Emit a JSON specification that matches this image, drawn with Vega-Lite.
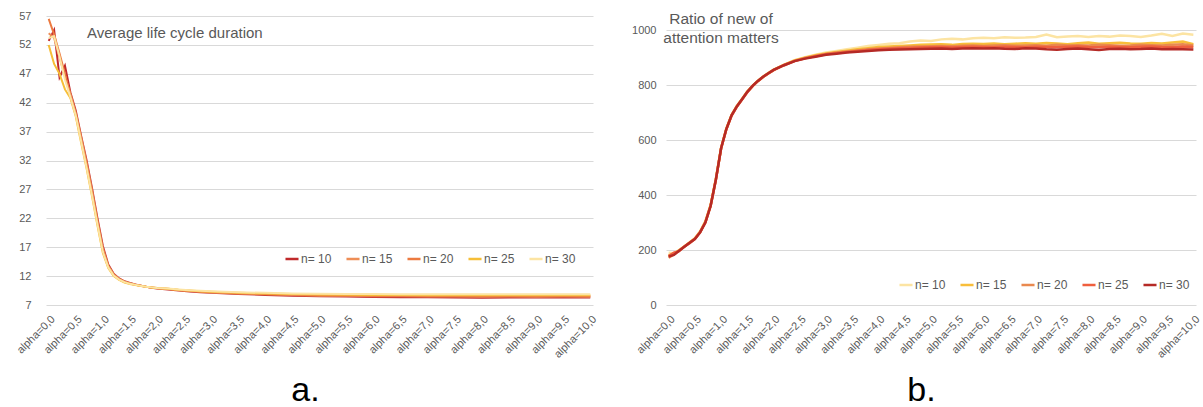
{
  "$schema": "https://vega.github.io/schema/vega-lite/v6.json",
  "background": "white",
  "padding": {"left": 14, "top": 10, "right": 0, "bottom": 0},
  "bounds": "flush",
  "spacing": 73,
  "datasets": {
    "life": [
      {"n":"n= 10","a":0,"v":52.7},{"n":"n= 10","a":0.1,"v":54.6},{"n":"n= 10","a":0.2,"v":46.4},{"n":"n= 10","a":0.3,"v":48.4},{"n":"n= 10","a":0.4,"v":43.8},{"n":"n= 10","a":0.5,"v":40.6},{"n":"n= 10","a":0.6,"v":36.2},{"n":"n= 10","a":0.7,"v":32.0},{"n":"n= 10","a":0.8,"v":27.2},{"n":"n= 10","a":0.9,"v":22.0},{"n":"n= 10","a":1.0,"v":17.2},{"n":"n= 10","a":1.1,"v":14.0},{"n":"n= 10","a":1.2,"v":12.4},{"n":"n= 10","a":1.3,"v":11.6},{"n":"n= 10","a":1.4,"v":11.1},{"n":"n= 10","a":1.5,"v":10.8},{"n":"n= 10","a":1.6,"v":10.55},{"n":"n= 10","a":1.7,"v":10.35},{"n":"n= 10","a":1.8,"v":10.15},{"n":"n= 10","a":1.9,"v":10.0},{"n":"n= 10","a":2.0,"v":9.85},{"n":"n= 10","a":2.2,"v":9.7},{"n":"n= 10","a":2.4,"v":9.5},{"n":"n= 10","a":2.6,"v":9.35},{"n":"n= 10","a":2.8,"v":9.2},{"n":"n= 10","a":3.0,"v":9.1},{"n":"n= 10","a":3.5,"v":8.9},{"n":"n= 10","a":4.0,"v":8.75},{"n":"n= 10","a":4.5,"v":8.6},{"n":"n= 10","a":5.0,"v":8.5},{"n":"n= 10","a":5.5,"v":8.45},{"n":"n= 10","a":6.0,"v":8.4},{"n":"n= 10","a":6.5,"v":8.35},{"n":"n= 10","a":7.0,"v":8.35},{"n":"n= 10","a":7.5,"v":8.3},{"n":"n= 10","a":8.0,"v":8.25},{"n":"n= 10","a":8.5,"v":8.3},{"n":"n= 10","a":9.0,"v":8.3},{"n":"n= 10","a":9.5,"v":8.3},{"n":"n= 10","a":10.0,"v":8.3},
      {"n":"n= 15","a":0,"v":54.0},{"n":"n= 15","a":0.1,"v":53.2},{"n":"n= 15","a":0.2,"v":49.8},{"n":"n= 15","a":0.3,"v":46.6},{"n":"n= 15","a":0.4,"v":43.6},{"n":"n= 15","a":0.5,"v":40.2},{"n":"n= 15","a":0.6,"v":36.0},{"n":"n= 15","a":0.7,"v":31.6},{"n":"n= 15","a":0.8,"v":26.8},{"n":"n= 15","a":0.9,"v":21.6},{"n":"n= 15","a":1.0,"v":16.8},{"n":"n= 15","a":1.1,"v":13.8},{"n":"n= 15","a":1.2,"v":12.3},{"n":"n= 15","a":1.3,"v":11.5},{"n":"n= 15","a":1.4,"v":11.05},{"n":"n= 15","a":1.5,"v":10.75},{"n":"n= 15","a":1.6,"v":10.52},{"n":"n= 15","a":1.7,"v":10.33},{"n":"n= 15","a":1.8,"v":10.15},{"n":"n= 15","a":1.9,"v":10.02},{"n":"n= 15","a":2.0,"v":9.9},{"n":"n= 15","a":2.2,"v":9.75},{"n":"n= 15","a":2.4,"v":9.55},{"n":"n= 15","a":2.6,"v":9.4},{"n":"n= 15","a":2.8,"v":9.28},{"n":"n= 15","a":3.0,"v":9.18},{"n":"n= 15","a":3.5,"v":8.98},{"n":"n= 15","a":4.0,"v":8.85},{"n":"n= 15","a":4.5,"v":8.72},{"n":"n= 15","a":5.0,"v":8.62},{"n":"n= 15","a":5.5,"v":8.58},{"n":"n= 15","a":6.0,"v":8.53},{"n":"n= 15","a":6.5,"v":8.5},{"n":"n= 15","a":7.0,"v":8.48},{"n":"n= 15","a":7.5,"v":8.45},{"n":"n= 15","a":8.0,"v":8.42},{"n":"n= 15","a":8.5,"v":8.45},{"n":"n= 15","a":9.0,"v":8.44},{"n":"n= 15","a":9.5,"v":8.45},{"n":"n= 15","a":10.0,"v":8.44},
      {"n":"n= 20","a":0,"v":56.5},{"n":"n= 20","a":0.1,"v":53.8},{"n":"n= 20","a":0.2,"v":50.5},{"n":"n= 20","a":0.3,"v":47.0},{"n":"n= 20","a":0.4,"v":43.0},{"n":"n= 20","a":0.5,"v":40.0},{"n":"n= 20","a":0.6,"v":35.6},{"n":"n= 20","a":0.7,"v":31.2},{"n":"n= 20","a":0.8,"v":26.5},{"n":"n= 20","a":0.9,"v":21.3},{"n":"n= 20","a":1.0,"v":16.5},{"n":"n= 20","a":1.1,"v":13.6},{"n":"n= 20","a":1.2,"v":12.2},{"n":"n= 20","a":1.3,"v":11.45},{"n":"n= 20","a":1.4,"v":11.0},{"n":"n= 20","a":1.5,"v":10.7},{"n":"n= 20","a":1.6,"v":10.5},{"n":"n= 20","a":1.7,"v":10.32},{"n":"n= 20","a":1.8,"v":10.16},{"n":"n= 20","a":1.9,"v":10.04},{"n":"n= 20","a":2.0,"v":9.93},{"n":"n= 20","a":2.2,"v":9.8},{"n":"n= 20","a":2.4,"v":9.6},{"n":"n= 20","a":2.6,"v":9.45},{"n":"n= 20","a":2.8,"v":9.33},{"n":"n= 20","a":3.0,"v":9.23},{"n":"n= 20","a":3.5,"v":9.05},{"n":"n= 20","a":4.0,"v":8.92},{"n":"n= 20","a":4.5,"v":8.8},{"n":"n= 20","a":5.0,"v":8.72},{"n":"n= 20","a":5.5,"v":8.66},{"n":"n= 20","a":6.0,"v":8.62},{"n":"n= 20","a":6.5,"v":8.6},{"n":"n= 20","a":7.0,"v":8.58},{"n":"n= 20","a":7.5,"v":8.56},{"n":"n= 20","a":8.0,"v":8.55},{"n":"n= 20","a":8.5,"v":8.55},{"n":"n= 20","a":9.0,"v":8.56},{"n":"n= 20","a":9.5,"v":8.55},{"n":"n= 20","a":10.0,"v":8.56},
      {"n":"n= 25","a":0,"v":52.0},{"n":"n= 25","a":0.1,"v":48.7},{"n":"n= 25","a":0.2,"v":47.0},{"n":"n= 25","a":0.3,"v":44.3},{"n":"n= 25","a":0.4,"v":42.8},{"n":"n= 25","a":0.5,"v":39.6},{"n":"n= 25","a":0.6,"v":35.0},{"n":"n= 25","a":0.7,"v":30.6},{"n":"n= 25","a":0.8,"v":25.8},{"n":"n= 25","a":0.9,"v":20.8},{"n":"n= 25","a":1.0,"v":16.0},{"n":"n= 25","a":1.1,"v":13.4},{"n":"n= 25","a":1.2,"v":12.0},{"n":"n= 25","a":1.3,"v":11.35},{"n":"n= 25","a":1.4,"v":10.9},{"n":"n= 25","a":1.5,"v":10.62},{"n":"n= 25","a":1.6,"v":10.45},{"n":"n= 25","a":1.7,"v":10.28},{"n":"n= 25","a":1.8,"v":10.14},{"n":"n= 25","a":1.9,"v":10.03},{"n":"n= 25","a":2.0,"v":9.94},{"n":"n= 25","a":2.2,"v":9.82},{"n":"n= 25","a":2.4,"v":9.63},{"n":"n= 25","a":2.6,"v":9.5},{"n":"n= 25","a":2.8,"v":9.38},{"n":"n= 25","a":3.0,"v":9.3},{"n":"n= 25","a":3.5,"v":9.12},{"n":"n= 25","a":4.0,"v":9.0},{"n":"n= 25","a":4.5,"v":8.9},{"n":"n= 25","a":5.0,"v":8.82},{"n":"n= 25","a":5.5,"v":8.77},{"n":"n= 25","a":6.0,"v":8.74},{"n":"n= 25","a":6.5,"v":8.72},{"n":"n= 25","a":7.0,"v":8.7},{"n":"n= 25","a":7.5,"v":8.7},{"n":"n= 25","a":8.0,"v":8.68},{"n":"n= 25","a":8.5,"v":8.7},{"n":"n= 25","a":9.0,"v":8.69},{"n":"n= 25","a":9.5,"v":8.7},{"n":"n= 25","a":10.0,"v":8.7},
      {"n":"n= 30","a":0,"v":53.2},{"n":"n= 30","a":0.1,"v":53.5},{"n":"n= 30","a":0.2,"v":50.0},{"n":"n= 30","a":0.3,"v":46.0},{"n":"n= 30","a":0.4,"v":43.0},{"n":"n= 30","a":0.5,"v":39.8},{"n":"n= 30","a":0.6,"v":35.3},{"n":"n= 30","a":0.7,"v":30.8},{"n":"n= 30","a":0.8,"v":26.0},{"n":"n= 30","a":0.9,"v":21.0},{"n":"n= 30","a":1.0,"v":16.2},{"n":"n= 30","a":1.1,"v":13.5},{"n":"n= 30","a":1.2,"v":12.1},{"n":"n= 30","a":1.3,"v":11.4},{"n":"n= 30","a":1.4,"v":10.95},{"n":"n= 30","a":1.5,"v":10.66},{"n":"n= 30","a":1.6,"v":10.48},{"n":"n= 30","a":1.7,"v":10.31},{"n":"n= 30","a":1.8,"v":10.16},{"n":"n= 30","a":1.9,"v":10.05},{"n":"n= 30","a":2.0,"v":9.96},{"n":"n= 30","a":2.2,"v":9.85},{"n":"n= 30","a":2.4,"v":9.68},{"n":"n= 30","a":2.6,"v":9.55},{"n":"n= 30","a":2.8,"v":9.45},{"n":"n= 30","a":3.0,"v":9.37},{"n":"n= 30","a":3.5,"v":9.2},{"n":"n= 30","a":4.0,"v":9.1},{"n":"n= 30","a":4.5,"v":9.0},{"n":"n= 30","a":5.0,"v":8.95},{"n":"n= 30","a":5.5,"v":8.92},{"n":"n= 30","a":6.0,"v":8.9},{"n":"n= 30","a":6.5,"v":8.88},{"n":"n= 30","a":7.0,"v":8.87},{"n":"n= 30","a":7.5,"v":8.87},{"n":"n= 30","a":8.0,"v":8.86},{"n":"n= 30","a":8.5,"v":8.87},{"n":"n= 30","a":9.0,"v":8.86},{"n":"n= 30","a":9.5,"v":8.87},{"n":"n= 30","a":10.0,"v":8.88}
    ],
    "ratio": [
      {"n":"n= 10","a":0,"v":190},{"n":"n= 10","a":0.1,"v":188},{"n":"n= 10","a":0.2,"v":200},{"n":"n= 10","a":0.3,"v":214},{"n":"n= 10","a":0.4,"v":228},{"n":"n= 10","a":0.5,"v":243},{"n":"n= 10","a":0.6,"v":268},{"n":"n= 10","a":0.7,"v":305},{"n":"n= 10","a":0.8,"v":365},{"n":"n= 10","a":0.9,"v":460},{"n":"n= 10","a":1.0,"v":572},{"n":"n= 10","a":1.1,"v":642},{"n":"n= 10","a":1.2,"v":692},{"n":"n= 10","a":1.3,"v":725},{"n":"n= 10","a":1.4,"v":750},{"n":"n= 10","a":1.5,"v":777},{"n":"n= 10","a":1.6,"v":798},{"n":"n= 10","a":1.7,"v":816},{"n":"n= 10","a":1.8,"v":831},{"n":"n= 10","a":1.9,"v":844},{"n":"n= 10","a":2.0,"v":856},
      {"n":"n= 10","a":2.2,"v":874},{"n":"n= 10","a":2.4,"v":890},{"n":"n= 10","a":2.6,"v":901},{"n":"n= 10","a":2.8,"v":910},{"n":"n= 10","a":3.0,"v":918},{"n":"n= 10","a":3.2,"v":924},{"n":"n= 10","a":3.4,"v":930},{"n":"n= 10","a":3.6,"v":936},{"n":"n= 10","a":3.8,"v":942},{"n":"n= 10","a":4.0,"v":946},{"n":"n= 10","a":4.2,"v":950},{"n":"n= 10","a":4.4,"v":952},{"n":"n= 10","a":4.6,"v":958},{"n":"n= 10","a":4.8,"v":962},{"n":"n= 10","a":5.0,"v":960},{"n":"n= 10","a":5.2,"v":966},{"n":"n= 10","a":5.4,"v":968},{"n":"n= 10","a":5.6,"v":966},{"n":"n= 10","a":5.8,"v":970},{"n":"n= 10","a":6.0,"v":972},{"n":"n= 10","a":6.2,"v":970},{"n":"n= 10","a":6.4,"v":974},{"n":"n= 10","a":6.6,"v":972},{"n":"n= 10","a":6.8,"v":973},{"n":"n= 10","a":7.0,"v":975},{"n":"n= 10","a":7.2,"v":984},{"n":"n= 10","a":7.4,"v":974},{"n":"n= 10","a":7.6,"v":976},{"n":"n= 10","a":7.8,"v":978},{"n":"n= 10","a":8.0,"v":975},{"n":"n= 10","a":8.2,"v":978},{"n":"n= 10","a":8.4,"v":976},{"n":"n= 10","a":8.6,"v":980},{"n":"n= 10","a":8.8,"v":978},{"n":"n= 10","a":9.0,"v":975},{"n":"n= 10","a":9.2,"v":980},{"n":"n= 10","a":9.4,"v":986},{"n":"n= 10","a":9.6,"v":978},{"n":"n= 10","a":9.8,"v":987},{"n":"n= 10","a":10.0,"v":983},
      {"n":"n= 15","a":0,"v":180},{"n":"n= 15","a":0.1,"v":186},{"n":"n= 15","a":0.2,"v":199},{"n":"n= 15","a":0.3,"v":213},{"n":"n= 15","a":0.4,"v":227},{"n":"n= 15","a":0.5,"v":242},{"n":"n= 15","a":0.6,"v":266},{"n":"n= 15","a":0.7,"v":302},{"n":"n= 15","a":0.8,"v":362},{"n":"n= 15","a":0.9,"v":457},{"n":"n= 15","a":1.0,"v":571},{"n":"n= 15","a":1.1,"v":641},{"n":"n= 15","a":1.2,"v":691},{"n":"n= 15","a":1.3,"v":723},{"n":"n= 15","a":1.4,"v":749},{"n":"n= 15","a":1.5,"v":776},{"n":"n= 15","a":1.6,"v":797},{"n":"n= 15","a":1.7,"v":815},{"n":"n= 15","a":1.8,"v":830},{"n":"n= 15","a":1.9,"v":843},{"n":"n= 15","a":2.0,"v":855},
      {"n":"n= 15","a":2.2,"v":873},{"n":"n= 15","a":2.4,"v":889},{"n":"n= 15","a":2.6,"v":899},{"n":"n= 15","a":2.8,"v":908},{"n":"n= 15","a":3.0,"v":915},{"n":"n= 15","a":3.2,"v":920},{"n":"n= 15","a":3.4,"v":925},{"n":"n= 15","a":3.6,"v":930},{"n":"n= 15","a":3.8,"v":934},{"n":"n= 15","a":4.0,"v":938},{"n":"n= 15","a":4.2,"v":940},{"n":"n= 15","a":4.4,"v":942},{"n":"n= 15","a":4.6,"v":944},{"n":"n= 15","a":4.8,"v":946},{"n":"n= 15","a":5.0,"v":947},{"n":"n= 15","a":5.2,"v":948},{"n":"n= 15","a":5.4,"v":946},{"n":"n= 15","a":5.6,"v":949},{"n":"n= 15","a":5.8,"v":950},{"n":"n= 15","a":6.0,"v":949},{"n":"n= 15","a":6.2,"v":951},{"n":"n= 15","a":6.4,"v":948},{"n":"n= 15","a":6.6,"v":950},{"n":"n= 15","a":6.8,"v":952},{"n":"n= 15","a":7.0,"v":950},{"n":"n= 15","a":7.2,"v":953},{"n":"n= 15","a":7.4,"v":951},{"n":"n= 15","a":7.6,"v":948},{"n":"n= 15","a":7.8,"v":952},{"n":"n= 15","a":8.0,"v":955},{"n":"n= 15","a":8.2,"v":950},{"n":"n= 15","a":8.4,"v":952},{"n":"n= 15","a":8.6,"v":954},{"n":"n= 15","a":8.8,"v":951},{"n":"n= 15","a":9.0,"v":950},{"n":"n= 15","a":9.2,"v":953},{"n":"n= 15","a":9.4,"v":951},{"n":"n= 15","a":9.6,"v":955},{"n":"n= 15","a":9.8,"v":958},{"n":"n= 15","a":10.0,"v":948},
      {"n":"n= 20","a":0,"v":172},{"n":"n= 20","a":0.1,"v":184},{"n":"n= 20","a":0.2,"v":198},{"n":"n= 20","a":0.3,"v":212},{"n":"n= 20","a":0.4,"v":226},{"n":"n= 20","a":0.5,"v":241},{"n":"n= 20","a":0.6,"v":265},{"n":"n= 20","a":0.7,"v":301},{"n":"n= 20","a":0.8,"v":361},{"n":"n= 20","a":0.9,"v":456},{"n":"n= 20","a":1.0,"v":570},{"n":"n= 20","a":1.1,"v":640},{"n":"n= 20","a":1.2,"v":690},{"n":"n= 20","a":1.3,"v":722},{"n":"n= 20","a":1.4,"v":748},{"n":"n= 20","a":1.5,"v":775},{"n":"n= 20","a":1.6,"v":796},{"n":"n= 20","a":1.7,"v":814},{"n":"n= 20","a":1.8,"v":829},{"n":"n= 20","a":1.9,"v":842},{"n":"n= 20","a":2.0,"v":854},
      {"n":"n= 20","a":2.2,"v":873},{"n":"n= 20","a":2.4,"v":888},{"n":"n= 20","a":2.6,"v":898},{"n":"n= 20","a":2.8,"v":906},{"n":"n= 20","a":3.0,"v":913},{"n":"n= 20","a":3.2,"v":918},{"n":"n= 20","a":3.4,"v":922},{"n":"n= 20","a":3.6,"v":926},{"n":"n= 20","a":3.8,"v":930},{"n":"n= 20","a":4.0,"v":933},{"n":"n= 20","a":4.2,"v":935},{"n":"n= 20","a":4.4,"v":937},{"n":"n= 20","a":4.6,"v":939},{"n":"n= 20","a":4.8,"v":940},{"n":"n= 20","a":5.0,"v":941},{"n":"n= 20","a":5.2,"v":942},{"n":"n= 20","a":5.4,"v":941},{"n":"n= 20","a":5.6,"v":943},{"n":"n= 20","a":5.8,"v":944},{"n":"n= 20","a":6.0,"v":942},{"n":"n= 20","a":6.2,"v":944},{"n":"n= 20","a":6.4,"v":945},{"n":"n= 20","a":6.6,"v":943},{"n":"n= 20","a":6.8,"v":944},{"n":"n= 20","a":7.0,"v":945},{"n":"n= 20","a":7.2,"v":943},{"n":"n= 20","a":7.4,"v":946},{"n":"n= 20","a":7.6,"v":944},{"n":"n= 20","a":7.8,"v":945},{"n":"n= 20","a":8.0,"v":944},{"n":"n= 20","a":8.2,"v":946},{"n":"n= 20","a":8.4,"v":945},{"n":"n= 20","a":8.6,"v":943},{"n":"n= 20","a":8.8,"v":944},{"n":"n= 20","a":9.0,"v":946},{"n":"n= 20","a":9.2,"v":945},{"n":"n= 20","a":9.4,"v":944},{"n":"n= 20","a":9.6,"v":946},{"n":"n= 20","a":9.8,"v":948},{"n":"n= 20","a":10.0,"v":944},
      {"n":"n= 25","a":0,"v":178},{"n":"n= 25","a":0.1,"v":190},{"n":"n= 25","a":0.2,"v":196},{"n":"n= 25","a":0.3,"v":213},{"n":"n= 25","a":0.4,"v":225},{"n":"n= 25","a":0.5,"v":240},{"n":"n= 25","a":0.6,"v":264},{"n":"n= 25","a":0.7,"v":300},{"n":"n= 25","a":0.8,"v":360},{"n":"n= 25","a":0.9,"v":455},{"n":"n= 25","a":1.0,"v":569},{"n":"n= 25","a":1.1,"v":639},{"n":"n= 25","a":1.2,"v":689},{"n":"n= 25","a":1.3,"v":721},{"n":"n= 25","a":1.4,"v":747},{"n":"n= 25","a":1.5,"v":774},{"n":"n= 25","a":1.6,"v":796},{"n":"n= 25","a":1.7,"v":814},{"n":"n= 25","a":1.8,"v":829},{"n":"n= 25","a":1.9,"v":842},{"n":"n= 25","a":2.0,"v":854},
      {"n":"n= 25","a":2.2,"v":872},{"n":"n= 25","a":2.4,"v":887},{"n":"n= 25","a":2.6,"v":897},{"n":"n= 25","a":2.8,"v":905},{"n":"n= 25","a":3.0,"v":912},{"n":"n= 25","a":3.2,"v":916},{"n":"n= 25","a":3.4,"v":920},{"n":"n= 25","a":3.6,"v":924},{"n":"n= 25","a":3.8,"v":927},{"n":"n= 25","a":4.0,"v":930},{"n":"n= 25","a":4.2,"v":932},{"n":"n= 25","a":4.4,"v":934},{"n":"n= 25","a":4.6,"v":935},{"n":"n= 25","a":4.8,"v":936},{"n":"n= 25","a":5.0,"v":937},{"n":"n= 25","a":5.2,"v":938},{"n":"n= 25","a":5.4,"v":936},{"n":"n= 25","a":5.6,"v":938},{"n":"n= 25","a":5.8,"v":939},{"n":"n= 25","a":6.0,"v":938},{"n":"n= 25","a":6.2,"v":937},{"n":"n= 25","a":6.4,"v":939},{"n":"n= 25","a":6.6,"v":938},{"n":"n= 25","a":6.8,"v":937},{"n":"n= 25","a":7.0,"v":939},{"n":"n= 25","a":7.2,"v":938},{"n":"n= 25","a":7.4,"v":937},{"n":"n= 25","a":7.6,"v":939},{"n":"n= 25","a":7.8,"v":940},{"n":"n= 25","a":8.0,"v":938},{"n":"n= 25","a":8.2,"v":937},{"n":"n= 25","a":8.4,"v":939},{"n":"n= 25","a":8.6,"v":938},{"n":"n= 25","a":8.8,"v":937},{"n":"n= 25","a":9.0,"v":939},{"n":"n= 25","a":9.2,"v":940},{"n":"n= 25","a":9.4,"v":938},{"n":"n= 25","a":9.6,"v":937},{"n":"n= 25","a":9.8,"v":940},{"n":"n= 25","a":10.0,"v":938},
      {"n":"n= 30","a":0,"v":176},{"n":"n= 30","a":0.1,"v":182},{"n":"n= 30","a":0.2,"v":197},{"n":"n= 30","a":0.3,"v":212},{"n":"n= 30","a":0.4,"v":226},{"n":"n= 30","a":0.5,"v":240},{"n":"n= 30","a":0.6,"v":264},{"n":"n= 30","a":0.7,"v":300},{"n":"n= 30","a":0.8,"v":360},{"n":"n= 30","a":0.9,"v":455},{"n":"n= 30","a":1.0,"v":570},{"n":"n= 30","a":1.1,"v":640},{"n":"n= 30","a":1.2,"v":690},{"n":"n= 30","a":1.3,"v":722},{"n":"n= 30","a":1.4,"v":748},{"n":"n= 30","a":1.5,"v":775},{"n":"n= 30","a":1.6,"v":797},{"n":"n= 30","a":1.7,"v":815},{"n":"n= 30","a":1.8,"v":830},{"n":"n= 30","a":1.9,"v":843},{"n":"n= 30","a":2.0,"v":855},
      {"n":"n= 30","a":2.2,"v":872},{"n":"n= 30","a":2.4,"v":887},{"n":"n= 30","a":2.6,"v":896},{"n":"n= 30","a":2.8,"v":903},{"n":"n= 30","a":3.0,"v":910},{"n":"n= 30","a":3.2,"v":914},{"n":"n= 30","a":3.4,"v":918},{"n":"n= 30","a":3.6,"v":921},{"n":"n= 30","a":3.8,"v":924},{"n":"n= 30","a":4.0,"v":926},{"n":"n= 30","a":4.2,"v":928},{"n":"n= 30","a":4.4,"v":929},{"n":"n= 30","a":4.6,"v":930},{"n":"n= 30","a":4.8,"v":931},{"n":"n= 30","a":5.0,"v":932},{"n":"n= 30","a":5.2,"v":933},{"n":"n= 30","a":5.4,"v":931},{"n":"n= 30","a":5.6,"v":933},{"n":"n= 30","a":5.8,"v":934},{"n":"n= 30","a":6.0,"v":933},{"n":"n= 30","a":6.2,"v":934},{"n":"n= 30","a":6.4,"v":932},{"n":"n= 30","a":6.6,"v":931},{"n":"n= 30","a":6.8,"v":934},{"n":"n= 30","a":7.0,"v":933},{"n":"n= 30","a":7.2,"v":930},{"n":"n= 30","a":7.4,"v":928},{"n":"n= 30","a":7.6,"v":931},{"n":"n= 30","a":7.8,"v":933},{"n":"n= 30","a":8.0,"v":930},{"n":"n= 30","a":8.2,"v":927},{"n":"n= 30","a":8.4,"v":931},{"n":"n= 30","a":8.6,"v":932},{"n":"n= 30","a":8.8,"v":930},{"n":"n= 30","a":9.0,"v":931},{"n":"n= 30","a":9.2,"v":933},{"n":"n= 30","a":9.4,"v":930},{"n":"n= 30","a":9.6,"v":931},{"n":"n= 30","a":9.8,"v":930},{"n":"n= 30","a":10.0,"v":929}
    ]
  },
  "hconcat": [
    {
      "width": 547,
      "height": 289,
      "data": {"name": "life"},
      "title": {
        "text": "Average life cycle duration",
        "frame": "group",
        "anchor": "start",
        "dx": 41,
        "offset": -31,
        "fontSize": 15,
        "fontWeight": "normal",
        "font": "Liberation Sans",
        "color": "#595959"
      },
      "mark": {"type": "line", "strokeWidth": 2},
      "encoding": {
        "x": {
          "field": "a",
          "type": "quantitative",
          "scale": {"domain": [-0.05, 10.05], "nice": false, "zero": false},
          "axis": {
            "values": [0, 0.5, 1, 1.5, 2, 2.5, 3, 3.5, 4, 4.5, 5, 5.5, 6, 6.5, 7, 7.5, 8, 8.5, 9, 9.5, 10],
            "labelExpr": "'alpha=' + replace(format(datum.value, '.1f'), '.', ',')",
            "labelAngle": -45,
            "labelPadding": 8,
            "labelFlush": false,
            "labelOverlap": false,
            "grid": false,
            "title": "a.",
            "titleFontSize": 34,
            "titlePadding": 14,
            "titleX": 259
          }
        },
        "y": {
          "field": "v",
          "type": "quantitative",
          "scale": {"domain": [7, 57], "nice": false, "zero": false},
          "axis": {"values": [7, 12, 17, 22, 27, 32, 37, 42, 47, 52, 57], "title": null, "labelPadding": 15}
        },
        "color": {
          "field": "n",
          "type": "nominal",
          "scale": {
            "domain": ["n= 10", "n= 15", "n= 20", "n= 25", "n= 30"],
            "range": ["#C0292B", "#EE8E56", "#EC7A40", "#F6BE37", "#FCE4A3"]
          },
          "legend": {"orient": "none", "legendX": 238, "legendY": 235}
        }
      }
    },
    {
      "width": 530,
      "height": 289,
      "data": {"name": "ratio"},
      "title": {
        "text": ["Ratio of new of", "attention matters"],
        "frame": "group",
        "anchor": "start",
        "align": "center",
        "dx": 55,
        "offset": -30,
        "fontSize": 15.5,
        "lineHeight": 19,
        "fontWeight": "normal",
        "font": "Liberation Sans",
        "color": "#595959"
      },
      "mark": {"type": "line", "strokeWidth": 2.5},
      "encoding": {
        "x": {
          "field": "a",
          "type": "quantitative",
          "scale": {"domain": [-0.05, 10.05], "nice": false, "zero": false},
          "axis": {
            "values": [0, 0.5, 1, 1.5, 2, 2.5, 3, 3.5, 4, 4.5, 5, 5.5, 6, 6.5, 7, 7.5, 8, 8.5, 9, 9.5, 10],
            "labelExpr": "'alpha=' + replace(format(datum.value, '.1f'), '.', ',')",
            "labelAngle": -45,
            "labelPadding": 8,
            "labelFlush": false,
            "labelOverlap": false,
            "grid": false,
            "title": "b.",
            "titleFontSize": 34,
            "titlePadding": 14,
            "titleX": 255
          }
        },
        "y": {
          "field": "v",
          "type": "quantitative",
          "scale": {"domain": [0, 1051], "nice": false, "zero": true},
          "axis": {"values": [0, 200, 400, 600, 800, 1000], "format": "d", "title": null, "labelPadding": 10}
        },
        "color": {
          "field": "n",
          "type": "nominal",
          "scale": {
            "domain": ["n= 10", "n= 15", "n= 20", "n= 25", "n= 30"],
            "range": ["#FCE4A3", "#F8BE3A", "#E9894F", "#EF5F3E", "#B52A26"]
          },
          "legend": {"orient": "none", "legendX": 232, "legendY": 261}
        }
      }
    }
  ],
  "resolve": {"scale": {"color": "independent"}, "legend": {"color": "independent"}},
  "config": {
    "view": {"stroke": null},
    "font": "Liberation Sans",
    "axis": {
      "labelFont": "Liberation Sans",
      "labelFontSize": 11,
      "labelColor": "#595959",
      "gridColor": "#d9d9d9",
      "gridWidth": 1,
      "domain": false,
      "ticks": false,
      "titleFont": "Liberation Sans",
      "titleFontWeight": "normal",
      "titleColor": "#000000"
    },
    "legend": {
      "direction": "horizontal",
      "title": null,
      "symbolType": "stroke",
      "symbolSize": 170,
      "symbolStrokeWidth": 2.5,
      "labelFont": "Liberation Sans",
      "labelFontSize": 12,
      "labelColor": "#595959",
      "labelOffset": 1,
      "columnPadding": 9
    }
  }
}
